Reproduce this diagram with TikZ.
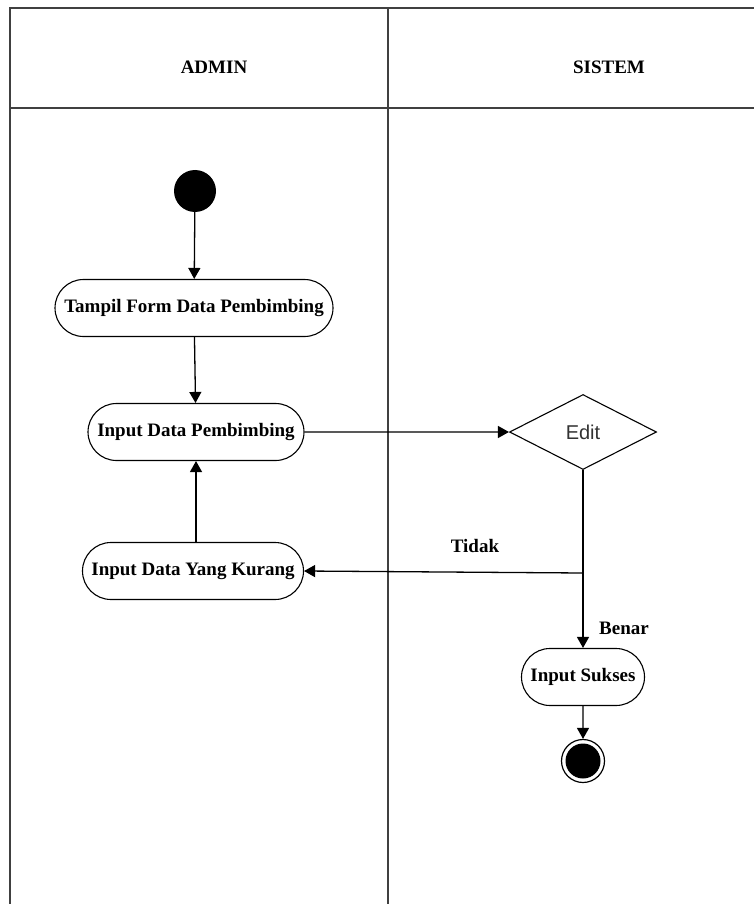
\documentclass[tikz,border=0pt]{standalone}
\usepackage{fontspec}
\setmainfont{Liberation Serif}
\newfontfamily\diafont{Liberation Sans}
\usetikzlibrary{shapes.geometric,shapes.misc,arrows.meta}
\begin{document}
\begin{tikzpicture}[x=1pt,y=-1pt,
  lane/.style={draw=black!75,line width=2pt},
  act/.style={draw,line width=1.1pt,rounded rectangle,minimum height=57pt,
    inner xsep=4pt,font=\fontsize{19}{21}\selectfont\bfseries},
  flow/.style={line width=1.3pt,-{Triangle[width=12pt,length=11pt]}},
  lbl/.style={font=\fontsize{19}{21}\selectfont\bfseries},
  decision/.style={draw,line width=1.1pt,diamond,aspect=1.96,minimum width=147pt,
    minimum height=75pt,inner sep=0pt,font=\diafont\fontsize{20}{22}\selectfont,text=black!80}]
\useasboundingbox (0,0) rectangle (754,904);

% swimlanes
\draw[lane] (10,906) -- (10,8) -- (756,8);
\draw[lane] (10,108) -- (756,108);
\draw[lane] (388,8) -- (388,906);
\node[lbl] (hadmin) at (214,67) {ADMIN};
\node[lbl] (hsistem) at (609,67) {SISTEM};

% activities
\node[circle,fill=black,minimum size=42pt,inner sep=0pt] (start) at (195,191) {};
\node[act,minimum width=286pt] (tampil) at (194,308) {Tampil Form Data Pembimbing};
\node[act,minimum width=224pt] (input) at (196,432) {Input Data Pembimbing};
\node[act,minimum width=229pt] (kurang) at (193,571) {Input Data Yang Kurang};
\node[decision] (edit) at (583,432) {Edit};
\node[act,minimum width=131pt] (sukses) at (583,677) {Input Sukses};
\node[circle,draw,line width=1.2pt,minimum size=43pt,inner sep=0pt] (end) at (583,761) {};
\node[circle,fill=black,minimum size=35pt,inner sep=0pt] (endin) at (end.center) {};

\coordinate (split) at (583,573);

% flows
\draw[flow] (start) -- (tampil);
\draw[flow] (tampil) -- (input);
\draw[flow] (input) -- (edit.west);
\draw[line width=1.3pt] (edit.south) -- (split);
\draw[flow] (split) -- (kurang.east);
\draw[flow] (split) -- (sukses.north);
\draw[flow] (kurang.north -| input.south) -- (input.south);
\draw[flow] (sukses) -- (end);

% guards
\node[lbl] (tidak) at (475,546) {Tidak};
\node[lbl] (benar) at (624,628) {Benar};
\end{tikzpicture}
\end{document}
